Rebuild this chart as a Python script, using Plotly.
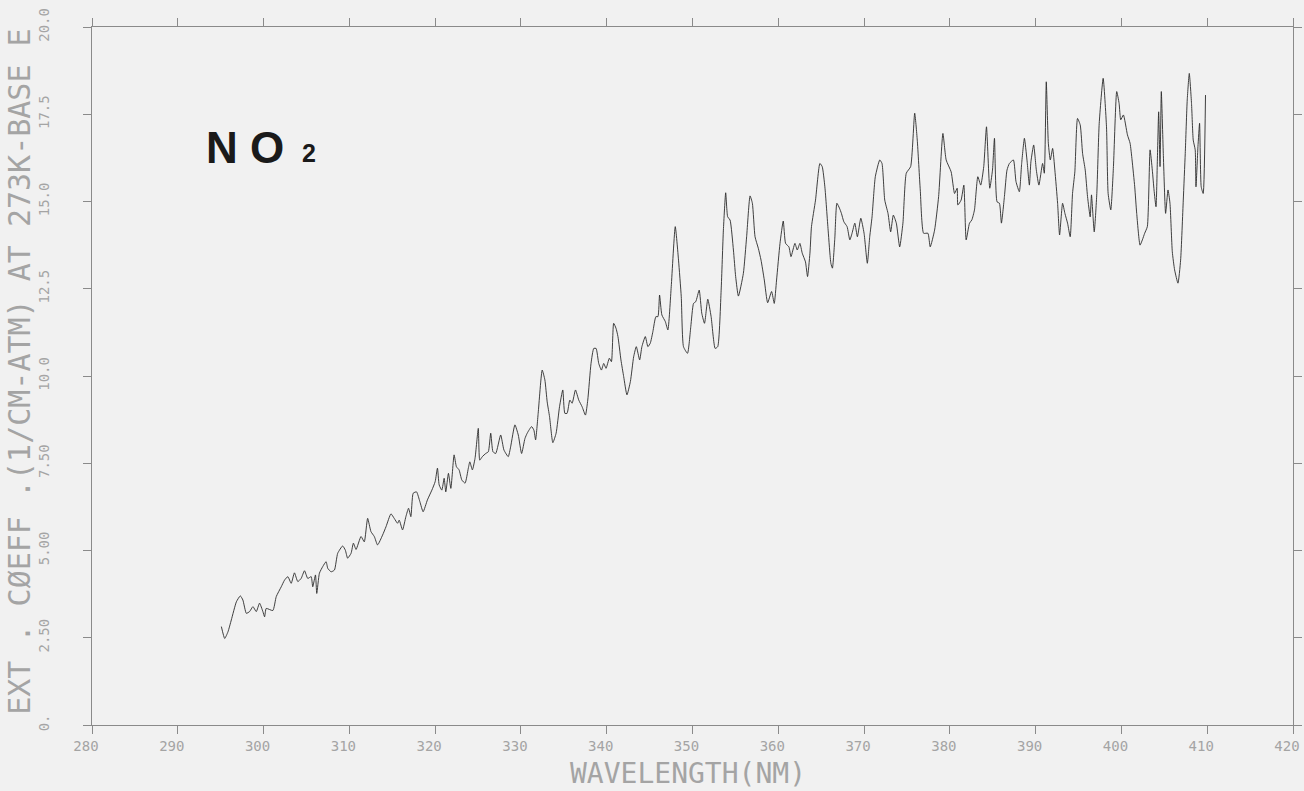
import plotly.graph_objects as go

# Wavelength (nm) and extinction coefficient (1/cm-atm)
wavelength = [
    295.08, 295.47, 295.85, 296.24, 296.83, 297.29, 297.59, 297.99, 298.37, 298.76,
    299.15, 299.53, 299.92, 300.12, 300.31, 301.08, 301.48, 302.06, 302.44, 302.83,
    303.22, 303.60, 303.99, 304.38, 304.77, 305.15, 305.55, 305.73, 306.05, 306.20,
    306.51, 306.90, 307.29, 307.48, 307.87, 308.26, 308.64, 309.22, 309.53, 309.80,
    310.20, 310.47, 310.78, 311.36, 311.74, 312.13, 312.52, 312.91, 313.29, 313.87,
    314.27, 314.85, 315.23, 315.62, 315.81, 316.20, 316.59, 316.90, 317.17, 317.44,
    317.83, 318.22, 318.60, 319.10, 319.62, 320.00, 320.27, 320.47, 320.78, 321.05,
    321.24, 321.55, 321.83, 322.21, 322.48, 322.79, 323.11, 323.49, 323.87, 324.04,
    324.34, 324.65, 325.03, 325.20, 325.50, 325.90, 326.20, 326.48, 326.74, 327.06,
    327.64, 328.02, 328.52, 328.80, 329.30, 329.69, 330.08, 330.47, 330.73, 331.24,
    331.51, 331.71, 332.01, 332.48, 332.79, 333.06, 333.34, 333.72, 334.10, 334.50,
    334.88, 335.12, 335.38, 335.70, 335.97, 336.36, 336.74, 337.13, 337.52, 337.79,
    338.17, 338.49, 338.76, 339.07, 339.38, 339.65, 339.92, 340.31, 340.55, 340.81,
    341.08, 341.31, 341.66, 341.98, 342.36, 342.76, 343.14, 343.45, 343.84, 344.10,
    344.50, 344.80, 345.08, 345.38, 345.73, 345.97, 346.16, 346.43, 346.83, 347.13,
    347.52, 347.99, 348.37, 348.69, 348.95, 349.42, 349.80, 350.12, 350.38, 350.78,
    351.08, 351.40, 351.78, 352.17, 352.64, 352.94, 353.34, 353.60, 353.87, 354.10,
    354.38, 354.77, 355.03, 355.35, 355.93, 356.31, 356.71, 356.98, 357.29, 357.67,
    357.99, 358.37, 358.76, 359.22, 359.53, 359.80, 360.20, 360.58, 360.85, 361.24,
    361.48, 361.94, 362.21, 362.52, 362.79, 363.17, 363.41, 363.69, 363.87, 364.34,
    364.85, 365.12, 365.43, 365.81, 366.13, 366.31, 366.59, 366.83, 367.13, 367.36,
    367.64, 368.02, 368.34, 368.60, 368.92, 369.22, 369.62, 370.00, 370.38, 370.66,
    370.93, 371.31, 371.83, 372.09, 372.41, 372.79, 373.10, 373.41, 373.76, 374.15,
    374.53, 374.92, 375.43, 375.90, 376.20, 376.55, 376.94, 377.44, 377.71, 378.22,
    378.69, 379.19, 379.57, 380.15, 380.55, 380.85, 380.93, 381.31, 381.63, 381.90,
    382.29, 382.56, 382.87, 383.26, 383.60, 383.95, 384.27, 384.65, 384.97, 385.20,
    385.50, 385.78, 386.01, 386.36, 386.66, 386.94, 387.41, 387.71, 388.10, 388.37,
    388.69, 388.99, 389.27, 389.45, 389.77, 390.08, 390.38, 390.81, 391.01, 391.24,
    391.48, 391.71, 391.98, 392.24, 392.56, 392.79, 393.14, 393.41, 393.72, 394.03,
    394.30, 394.57, 394.88, 395.20, 395.47, 395.78, 396.05, 396.36, 396.51, 396.83,
    397.13, 397.41, 397.87, 398.26, 398.45, 398.76, 399.07, 399.45, 399.73, 399.92,
    400.23, 400.70, 401.01, 401.24, 401.55, 401.78, 402.17, 402.44, 402.71, 403.02,
    403.34, 403.60, 403.80, 404.03, 404.19, 404.34, 404.50, 404.65, 404.88, 405.15,
    405.43, 405.66, 405.93, 406.20, 406.59, 406.90, 407.21, 407.44, 407.67, 407.91,
    408.17, 408.37, 408.60, 408.69, 408.92, 409.11, 409.30, 409.53, 409.80,
]

ext_coeff = [
    2.82, 2.48, 2.67, 3.01, 3.53, 3.70, 3.58, 3.20, 3.25, 3.39,
    3.25, 3.49, 3.25, 3.10, 3.34, 3.28, 3.68, 3.96, 4.15, 4.25,
    4.06, 4.36, 4.11, 4.20, 4.42, 4.20, 4.25, 3.96, 4.30, 3.77,
    4.35, 4.54, 4.68, 4.49, 4.39, 4.44, 4.92, 5.13, 5.01, 4.78,
    4.92, 5.21, 5.03, 5.40, 5.25, 5.92, 5.54, 5.40, 5.16, 5.44,
    5.68, 6.05, 5.92, 5.78, 5.87, 5.59, 5.97, 6.21, 5.97, 6.64,
    6.68, 6.40, 6.11, 6.45, 6.73, 6.97, 7.36, 6.88, 6.73, 7.07,
    6.68, 7.21, 6.78, 7.74, 7.40, 7.31, 7.02, 6.93, 7.36, 7.54,
    7.31, 7.64, 8.50, 7.59, 7.69, 7.78, 7.83, 8.36, 7.83, 7.78,
    8.31, 7.88, 7.69, 7.97, 8.60, 8.31, 7.78, 8.21, 8.36, 8.55,
    8.45, 8.17, 8.93, 10.17, 9.89, 9.26, 8.83, 8.09, 8.36, 9.12,
    9.60, 8.93, 8.93, 9.31, 9.22, 9.60, 9.31, 9.12, 8.88, 9.31,
    10.36, 10.79, 10.79, 10.36, 10.17, 10.36, 10.22, 10.51, 10.41, 11.51,
    11.37, 11.13, 10.46, 9.98, 9.46, 9.84, 10.55, 10.84, 10.46, 10.84,
    11.13, 10.84, 10.94, 11.27, 11.70, 11.70, 12.32, 11.75, 11.56, 11.32,
    12.56, 14.28, 13.32, 12.27, 10.84, 10.65, 11.41, 12.08, 12.13, 12.46,
    11.80, 11.51, 12.20, 11.70, 10.79, 10.84, 12.46, 14.18, 15.25, 14.56,
    14.47, 13.61, 12.85, 12.29, 12.94, 13.99, 15.16, 14.95, 13.99, 13.66,
    13.32, 12.75, 12.10, 12.42, 12.08, 12.75, 13.80, 14.44, 13.80, 13.70,
    13.42, 13.80, 13.61, 13.80, 13.52, 13.27, 12.85, 13.52, 14.28, 15.04,
    16.09, 16.00, 15.42, 14.18, 13.23, 13.09, 13.95, 14.95, 14.81, 14.66,
    14.42, 14.28, 13.90, 14.09, 14.38, 13.99, 14.52, 14.09, 13.23, 13.99,
    14.56, 15.71, 16.19, 16.09, 15.04, 14.66, 14.13, 14.61, 14.38, 13.70,
    14.38, 15.81, 16.00, 17.53, 16.76, 15.33, 14.09, 14.09, 13.70, 14.18,
    15.14, 16.95, 16.19, 15.85, 15.23, 15.38, 14.90, 15.04, 15.47, 13.90,
    14.38, 14.47, 14.76, 15.71, 15.47, 16.00, 17.14, 15.38, 15.90, 16.81,
    14.99, 14.95, 14.38, 15.14, 15.90, 16.09, 16.19, 15.57, 15.28, 16.09,
    16.81, 16.19, 15.47, 16.14, 16.62, 15.90, 15.47, 16.09, 15.81, 18.43,
    16.67, 16.19, 16.52, 15.90, 14.95, 14.04, 14.95, 14.66, 14.38, 13.99,
    15.23, 15.85, 17.38, 17.19, 16.38, 15.90, 15.14, 14.56, 15.19, 14.13,
    15.23, 17.24, 18.53, 17.14, 15.23, 14.76, 16.00, 18.15, 17.81, 17.34,
    17.48, 16.91, 16.67, 16.19, 15.42, 14.66, 13.75, 13.90, 14.09, 14.28,
    16.48, 15.90, 15.33, 14.85, 16.19, 17.57, 16.00, 18.15, 16.38, 14.66,
    15.33, 14.95, 13.56, 13.04, 12.66, 13.32, 15.04, 16.38, 17.91, 18.67,
    17.81, 16.76, 16.48, 15.42, 16.57, 17.24, 15.42, 15.23, 18.05,
]

x_ticks = [280, 290, 300, 310, 320, 330, 340, 350, 360, 370, 380, 390, 400, 410, 420]
y_ticks = [0, 2.5, 5, 7.5, 10, 12.5, 15, 17.5, 20]
y_tick_text = ["0.", "2.50", "5.00", "7.50", "10.0", "12.5", "15.0", "17.5", "20.0"]

x_title = "WAVELENGTH(NM)"
y_title = "EXT . CØEFF .(1/CM-ATM) AT 273K-BASE E"

BG = "#f1f1f1"
AXIS = "#8a8a8a"
LABEL = "#a4a4a4"
MONO = "DejaVu Sans Mono"

fig = go.Figure()
fig.add_trace(go.Scatter(
    x=wavelength, y=ext_coeff, mode="lines",
    line=dict(color="#2a2a2a", width=0.9, shape="spline", smoothing=0.5),
    showlegend=False, hoverinfo="skip",
))

fig.update_layout(
    width=1304, height=791,
    margin=dict(l=92, r=11, t=27, b=66),
    paper_bgcolor=BG, plot_bgcolor=BG,
    showlegend=False,
    xaxis=dict(
        range=[280, 420], tickvals=x_ticks,
        ticktext=[str(v) for v in x_ticks],
        showgrid=False, zeroline=False, automargin=False,
        showline=True, linecolor=AXIS, linewidth=1, mirror="ticks",
        ticks="outside", ticklen=8, tickwidth=1, tickcolor=AXIS,
        ticklabelshift=-6, ticklabeloverflow="allow",
        tickfont=dict(family=MONO, size=14, color=LABEL),
    ),
    yaxis=dict(
        range=[0, 20], tickvals=y_ticks, ticktext=y_tick_text,
        showgrid=False, zeroline=False, automargin=False,
        showline=True, linecolor=AXIS, linewidth=1, mirror="ticks",
        ticks="outside", ticklen=8, tickwidth=1, tickcolor=AXIS,
        tickangle=-90, ticklabelstandoff=28, ticklabeloverflow="allow",
        tickfont=dict(family=MONO, size=14, color=LABEL),
    ),
    annotations=[
        dict(text=x_title, xref="paper", yref="paper", x=0.496, y=-0.070,
             xanchor="center", yanchor="middle", showarrow=False,
             font=dict(family=MONO, size=28, color=LABEL)),
        dict(text=y_title, xref="paper", yref="paper", x=-0.060, y=0.506,
             xanchor="center", yanchor="middle", textangle=-90, showarrow=False,
             font=dict(family=MONO, size=30, color=LABEL)),
        dict(text="<b>N O</b>", xref="paper", yref="paper", x=0.0933, y=0.828,
             xanchor="left", yanchor="middle", showarrow=False,
             font=dict(family="Liberation Sans", size=44, color="#1a1a1a")),
        dict(text="<b>2</b>", xref="paper", yref="paper", x=0.173, y=0.819,
             xanchor="left", yanchor="middle", showarrow=False,
             font=dict(family="Liberation Sans", size=25, color="#1a1a1a")),
    ],
)

fig.write_html("out.html")
